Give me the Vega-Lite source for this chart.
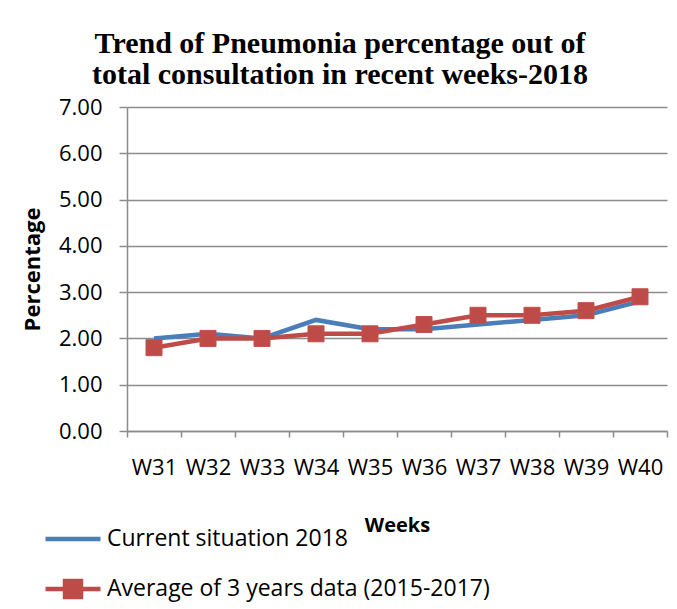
{
  "$schema": "https://vega.github.io/schema/vega-lite/v6.json",
  "width": 540,
  "height": 324,
  "autosize": {"type": "none"},
  "padding": {"left": 127, "top": 107, "right": 10, "bottom": 178},
  "background": "white",
  "title": {
    "text": ["Trend of Pneumonia percentage out of", "total consultation in recent weeks-2018"],
    "font": "Liberation Serif",
    "fontSize": 30,
    "fontWeight": "bold",
    "color": "black",
    "anchor": "middle",
    "dx": -57,
    "offset": 6,
    "lineHeight": 31
  },
  "data": {
    "values": [
      {"week": "W31", "series": "Current situation 2018", "value": 2.0},
      {"week": "W32", "series": "Current situation 2018", "value": 2.1},
      {"week": "W33", "series": "Current situation 2018", "value": 2.0},
      {"week": "W34", "series": "Current situation 2018", "value": 2.4},
      {"week": "W35", "series": "Current situation 2018", "value": 2.2},
      {"week": "W36", "series": "Current situation 2018", "value": 2.2},
      {"week": "W37", "series": "Current situation 2018", "value": 2.3},
      {"week": "W38", "series": "Current situation 2018", "value": 2.4},
      {"week": "W39", "series": "Current situation 2018", "value": 2.5},
      {"week": "W40", "series": "Current situation 2018", "value": 2.8},
      {"week": "W31", "series": "Average of 3 years data (2015-2017)", "value": 1.8},
      {"week": "W32", "series": "Average of 3 years data (2015-2017)", "value": 2.0},
      {"week": "W33", "series": "Average of 3 years data (2015-2017)", "value": 2.0},
      {"week": "W34", "series": "Average of 3 years data (2015-2017)", "value": 2.1},
      {"week": "W35", "series": "Average of 3 years data (2015-2017)", "value": 2.1},
      {"week": "W36", "series": "Average of 3 years data (2015-2017)", "value": 2.3},
      {"week": "W37", "series": "Average of 3 years data (2015-2017)", "value": 2.5},
      {"week": "W38", "series": "Average of 3 years data (2015-2017)", "value": 2.5},
      {"week": "W39", "series": "Average of 3 years data (2015-2017)", "value": 2.6},
      {"week": "W40", "series": "Average of 3 years data (2015-2017)", "value": 2.9}
    ]
  },
  "config": {
    "view": {"stroke": null},
    "font": "Open Sans"
  },
  "encoding": {
    "x": {
      "field": "week",
      "type": "ordinal",
      "scale": {"type": "band", "paddingInner": 0, "paddingOuter": 0},
      "axis": {
        "title": "Weeks",
        "titleFont": "Open Sans",
        "titleFontSize": 20,
        "titleFontWeight": "bold",
        "titleColor": "black",
        "titlePadding": 37,
        "labelAngle": 0,
        "labelFont": "Open Sans",
        "labelFontSize": 22,
        "labelColor": "black",
        "labelPadding": 20,
        "tickBand": "extent",
        "tickSize": 6,
        "tickColor": "#8c8c8c",
        "tickWidth": 1.5,
        "domainColor": "#8c8c8c",
        "domainWidth": 1.5,
        "grid": false
      }
    },
    "y": {
      "field": "value",
      "type": "quantitative",
      "scale": {"domain": [0, 7], "nice": false},
      "axis": {
        "title": "Percentage",
        "titleFont": "Open Sans",
        "titleFontSize": 22,
        "titleFontWeight": "bold",
        "titleColor": "black",
        "titlePadding": 14,
        "values": [0, 1, 2, 3, 4, 5, 6, 7],
        "format": ".2f",
        "labelFont": "Open Sans",
        "labelFontSize": 22,
        "labelColor": "black",
        "labelPadding": 17,
        "tickSize": 8,
        "tickColor": "#8c8c8c",
        "tickWidth": 1.5,
        "domainColor": "#8c8c8c",
        "domainWidth": 1.5,
        "grid": true,
        "gridColor": "#8c8c8c",
        "gridWidth": 1.5
      }
    },
    "color": {
      "field": "series",
      "type": "nominal",
      "sort": ["Current situation 2018", "Average of 3 years data (2015-2017)"],
      "scale": {
        "domain": ["Current situation 2018", "Average of 3 years data (2015-2017)"],
        "range": ["#4a7ebb", "#be4b48"]
      },
      "legend": {
        "title": null,
        "orient": "none",
        "legendX": -84,
        "legendY": 402,
        "direction": "vertical",
        "labelFont": "Open Sans",
        "labelFontSize": 23,
        "labelColor": "black",
        "labelLimit": 500,
        "symbolSize": 3025,
        "symbolStrokeWidth": 4,
        "rowPadding": 8,
        "labelOffset": 4,
        "encode": {
          "symbols": {
            "update": {
              "shape": {"signal": "datum.value === 'Current situation 2018' ? 'M-1,0H1' : 'M-1,0H1M-0.29,-0.29H0.29V0.29H-0.29Z'"},
              "fill": {"scale": "color", "field": "value"},
              "stroke": {"scale": "color", "field": "value"},
              "strokeWidth": {"value": 4.5},
              "opacity": {"value": 1}
            }
          }
        }
      }
    }
  },
  "layer": [
    {"mark": {"type": "line", "strokeWidth": 4.5}},
    {
      "transform": [{"filter": "datum.series === 'Average of 3 years data (2015-2017)'"}],
      "mark": {"type": "point", "shape": "square", "filled": true, "size": 256, "opacity": 1, "color": "#be4b48", "stroke": "#c0504d", "strokeWidth": 1}
    }
  ]
}
